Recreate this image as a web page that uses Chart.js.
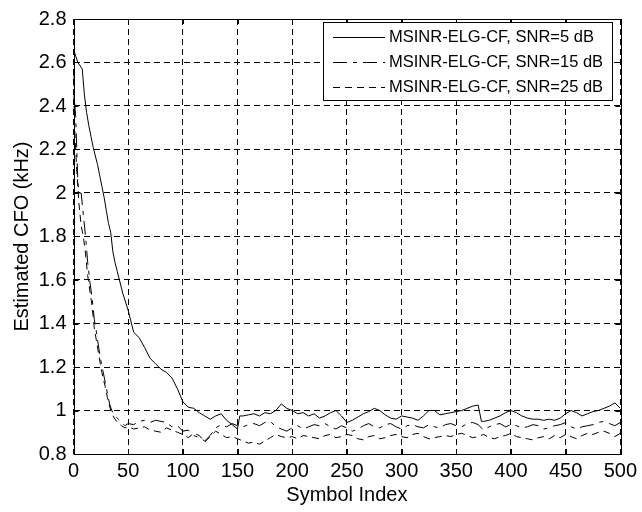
<!DOCTYPE html>
<html>
<head>
<meta charset="utf-8">
<script src="https://cdn.jsdelivr.net/npm/chart.js@4/dist/chart.umd.min.js"></script>
<style>
	html, body { margin: 0; padding: 0; background: #fff; }
	#wrap { width: 642px; height: 512px; }
</style>
</head>
<body>
<div id="wrap"><canvas id="myChart" width="642" height="512"></canvas></div>
<script>
// x ticks / y ticks
const xTicks = [0, 50, 100, 150, 200, 250, 300, 350, 400, 450, 500];
const yTicks = [0.8, 1, 1.2, 1.4, 1.6, 1.8, 2, 2.2, 2.4, 2.6, 2.8];

const seriesNames = ['MSINR-ELG-CF, SNR=5 dB', 'MSINR-ELG-CF, SNR=15 dB', 'MSINR-ELG-CF, SNR=25 dB'];

// [symbol index, CFO kHz]
const snr5 = [
	[0, 2.66], [2, 2.63], [4, 2.6], [6, 2.585], [8, 2.57], [10, 2.45], [12, 2.37], [14, 2.31], [16, 2.26], [18, 2.21],
	[20, 2.17], [22, 2.13], [24, 2.08], [26, 2.03], [28, 1.98], [30, 1.92], [32, 1.86], [34, 1.82], [36, 1.73], [38, 1.68],
	[40, 1.64], [45, 1.54], [50, 1.46], [55, 1.36], [60, 1.335], [65, 1.29], [70, 1.24], [75, 1.215], [80, 1.19], [85, 1.175],
	[90, 1.15], [95, 1.1], [100, 1.04], [105, 1.015], [110, 1.01], [115, 0.99], [120, 0.975], [125, 0.96], [130, 0.975], [135, 0.985],
	[140, 0.955], [145, 0.935], [150, 0.915], [152, 0.975], [155, 0.975], [160, 0.98], [165, 0.985], [170, 0.975], [175, 0.99], [180, 0.985],
	[185, 1.0], [190, 1.03], [195, 1.01], [200, 1.0], [205, 0.985], [210, 0.99], [215, 0.975], [220, 0.985], [225, 0.965], [230, 0.975],
	[235, 0.99], [240, 1.0], [245, 0.975], [250, 0.945], [255, 0.955], [260, 0.97], [265, 0.985], [270, 0.995], [275, 1.01], [280, 1.0],
	[285, 0.98], [290, 0.965], [295, 0.96], [300, 0.975], [305, 0.97], [310, 0.965], [315, 0.955], [320, 0.975], [325, 1.0], [330, 1.0],
	[335, 0.98], [340, 0.985], [345, 0.99], [350, 0.995], [355, 1.0], [360, 1.01], [365, 1.02], [370, 1.025], [373, 0.95], [375, 0.95],
	[380, 0.955], [385, 0.965], [390, 0.975], [395, 0.99], [400, 1.0], [405, 0.99], [410, 0.975], [415, 0.965], [420, 0.96], [425, 0.96],
	[430, 0.955], [435, 0.96], [440, 0.955], [445, 0.965], [450, 0.985], [455, 1.0], [460, 0.99], [465, 0.975], [470, 0.985], [475, 0.995],
	[480, 1.0], [485, 1.01], [490, 1.02], [495, 1.035], [500, 1.01]
];

const snr15 = [
	[0, 2.55], [1, 2.42], [2, 2.35], [3, 2.2], [4, 2.05], [5, 2.0], [7, 2.0], [9, 1.9], [11, 1.8], [13, 1.68],
	[15, 1.59], [17, 1.52], [19, 1.42], [21, 1.36], [23, 1.29], [25, 1.23], [27, 1.18], [29, 1.13], [31, 1.08], [33, 1.03],
	[35, 1.0], [38, 0.975], [41, 0.96], [44, 0.945], [47, 0.93], [50, 0.94], [55, 0.935], [60, 0.95], [65, 0.955], [70, 0.945],
	[75, 0.955], [80, 0.95], [85, 0.945], [90, 0.925], [95, 0.93], [100, 0.905], [105, 0.91], [110, 0.885], [115, 0.875], [120, 0.86],
	[125, 0.885], [130, 0.92], [135, 0.935], [140, 0.925], [145, 0.94], [150, 0.93], [155, 0.925], [160, 0.935], [165, 0.94], [170, 0.93],
	[175, 0.945], [180, 0.95], [185, 0.925], [190, 0.915], [195, 0.905], [200, 0.92], [205, 0.93], [210, 0.915], [215, 0.925], [220, 0.935],
	[225, 0.93], [230, 0.94], [235, 0.925], [240, 0.915], [245, 0.93], [250, 0.92], [255, 0.905], [260, 0.915], [265, 0.93], [270, 0.94],
	[275, 0.925], [280, 0.92], [285, 0.935], [290, 0.94], [295, 0.925], [300, 0.915], [305, 0.93], [310, 0.935], [315, 0.925], [320, 0.92],
	[325, 0.935], [330, 0.925], [335, 0.92], [340, 0.935], [345, 0.94], [350, 0.93], [355, 0.925], [360, 0.94], [365, 0.945], [370, 0.935],
	[375, 0.91], [380, 0.925], [385, 0.935], [390, 0.94], [395, 0.925], [400, 0.935], [405, 0.93], [410, 0.92], [415, 0.925], [420, 0.935],
	[425, 0.93], [430, 0.915], [435, 0.92], [440, 0.93], [445, 0.935], [450, 0.945], [455, 0.925], [460, 0.915], [465, 0.925], [470, 0.93],
	[475, 0.935], [480, 0.945], [485, 0.95], [490, 0.94], [495, 0.93], [500, 0.945]
];

const snr25 = [
	[0, 2.45], [1, 2.3], [2, 2.2], [3, 2.1], [5, 1.95], [7, 1.85], [9, 1.8], [11, 1.72], [13, 1.62], [15, 1.55],
	[17, 1.48], [19, 1.38], [21, 1.32], [23, 1.26], [25, 1.2], [27, 1.15], [29, 1.11], [31, 1.06], [33, 1.02], [35, 0.985],
	[38, 0.96], [41, 0.94], [44, 0.93], [47, 0.92], [50, 0.925], [55, 0.915], [60, 0.92], [65, 0.925], [70, 0.91], [75, 0.905],
	[80, 0.9], [85, 0.92], [90, 0.91], [95, 0.9], [100, 0.89], [105, 0.875], [110, 0.895], [115, 0.885], [120, 0.855], [125, 0.88],
	[130, 0.905], [135, 0.89], [140, 0.875], [145, 0.88], [150, 0.87], [155, 0.86], [160, 0.85], [165, 0.855], [170, 0.845], [175, 0.86],
	[180, 0.875], [185, 0.89], [190, 0.88], [195, 0.875], [200, 0.88], [205, 0.87], [210, 0.885], [215, 0.88], [220, 0.875], [225, 0.87],
	[230, 0.885], [235, 0.89], [240, 0.875], [245, 0.88], [250, 0.89], [255, 0.885], [260, 0.87], [265, 0.865], [270, 0.88], [275, 0.885],
	[280, 0.87], [285, 0.875], [290, 0.885], [295, 0.89], [300, 0.88], [305, 0.875], [310, 0.89], [315, 0.895], [320, 0.88], [325, 0.87],
	[330, 0.875], [335, 0.88], [340, 0.885], [345, 0.88], [350, 0.89], [355, 0.895], [360, 0.885], [365, 0.875], [370, 0.88], [375, 0.89],
	[380, 0.875], [385, 0.87], [390, 0.88], [395, 0.885], [400, 0.895], [405, 0.88], [410, 0.875], [415, 0.87], [420, 0.865], [425, 0.875],
	[430, 0.88], [435, 0.87], [440, 0.885], [445, 0.875], [450, 0.89], [455, 0.88], [460, 0.87], [465, 0.885], [470, 0.895], [475, 0.89],
	[480, 0.9], [485, 0.905], [490, 0.895], [495, 0.88], [500, 0.895]
];

const lineDashes = [[], [14, 6, 4, 6], [7, 5]];
const FONT = 'Arial, "Liberation Sans", sans-serif';

window.onload = () => {
	renderChart('myChart');
};

// 테두리 + 안쪽 눈금 (matlab 스타일)
const boxPlugin = {
	id: 'boxPlugin',
	afterDatasetsDraw(chart) {
		const { ctx, chartArea: a, scales } = chart;
		ctx.save();
		ctx.strokeStyle = '#000';
		ctx.lineWidth = 1;
		ctx.setLineDash([]);
		ctx.strokeRect(Math.round(a.left) + 0.5, Math.round(a.top) + 0.5, Math.round(a.right - a.left), Math.round(a.bottom - a.top));
		const tl = 5;
		ctx.beginPath();
		xTicks.forEach(v => {
			const x = Math.round(scales.x.getPixelForValue(v)) + 0.5;
			ctx.moveTo(x, a.bottom); ctx.lineTo(x, a.bottom - tl);
			ctx.moveTo(x, a.top); ctx.lineTo(x, a.top + tl);
		});
		yTicks.forEach(v => {
			const y = Math.round(scales.y.getPixelForValue(v)) + 0.5;
			ctx.moveTo(a.left, y); ctx.lineTo(a.left + tl, y);
			ctx.moveTo(a.right, y); ctx.lineTo(a.right - tl, y);
		});
		ctx.stroke();
		ctx.restore();
	},
	afterDraw(chart) {
		// legend box
		const { ctx } = chart;
		const bx = 323.5, by = 22.5, bw = 289, bh = 78;
		ctx.save();
		ctx.fillStyle = '#fff';
		ctx.fillRect(bx, by, bw, bh);
		ctx.strokeStyle = '#000';
		ctx.lineWidth = 1;
		ctx.strokeRect(bx, by, bw, bh);
		ctx.font = '16.5px ' + FONT;
		ctx.fillStyle = '#000';
		ctx.textBaseline = 'middle';
		seriesNames.forEach((name, i) => {
			const y = Math.round(by + 14 + i * 25) + 0.5;
			ctx.beginPath();
			ctx.setLineDash(lineDashes[i]);
			ctx.moveTo(333, y);
			ctx.lineTo(385, y);
			ctx.stroke();
			ctx.setLineDash([]);
			ctx.fillText(name, 389, y);
		});
		ctx.restore();
	}
};

function renderChart(chartId) {
	const ctx = document.getElementById(chartId);
	const allData = [snr5, snr15, snr25];

	new Chart(ctx, {
		type: 'line',
		data: {
			datasets: allData.map((d, i) => ({
				label: seriesNames[i],
				data: d.map(p => ({ x: p[0], y: p[1] })),
				borderColor: '#000',
				borderWidth: 1,
				borderDash: lineDashes[i],
				pointRadius: 0,
				tension: 0,
				fill: false
			}))
		},
		options: {
			responsive: false,
			animation: false,
			layout: { padding: { left: 0, right: 18, top: 14, bottom: 0 } },
			plugins: {
				legend: { display: false },
				tooltip: { enabled: false }
			},
			scales: {
				x: {
					type: 'linear',
					min: 0,
					max: 500,
					afterBuildTicks: s => { s.ticks = xTicks.map(v => ({ value: v })); },
					afterFit: s => { s.height = 58; },
					ticks: { color: '#000', font: { family: FONT, size: 20 }, padding: 5, maxRotation: 0 },
					grid: { color: '#000', lineWidth: 1, drawTicks: false },
					border: { display: false, dash: [6, 4] },
					title: { display: true, text: 'Symbol Index', color: '#000', font: { family: FONT, size: 20 }, padding: { top: 0, bottom: 5 } }
				},
				y: {
					type: 'linear',
					min: 0.8,
					max: 2.8,
					afterBuildTicks: s => { s.ticks = yTicks.map(v => ({ value: v })); },
					afterFit: s => { s.width = 73.5; },
					ticks: {
						color: '#000', font: { family: FONT, size: 20 }, padding: 7,
						callback: v => String(+v.toFixed(1))
					},
					grid: { color: '#000', lineWidth: 1, drawTicks: false },
					border: { display: false, dash: [6, 4] },
					title: { display: true, text: 'Estimated CFO (kHz)', color: '#000', font: { family: FONT, size: 20 }, padding: { top: 10, bottom: 0 } }
				}
			}
		},
		plugins: [boxPlugin]
	});
}
</script>
</body>
</html>
